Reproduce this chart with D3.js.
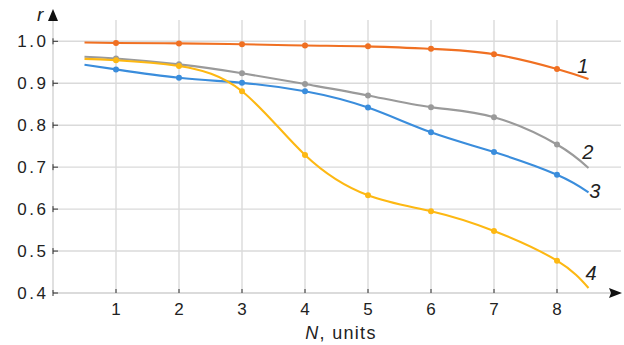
<!DOCTYPE html>
<html lang="en">
<head>
  <meta charset="UTF-8">
  <title>r vs N</title>
  <script src="https://d3js.org/d3.v7.min.js"></script>
  <style>
    body { margin: 0; background: #fff; }
    svg { display: block; font-family: "Liberation Sans", Arial, sans-serif; }
    .grid line { stroke: #dadada; stroke-width: 1.4px; }
    .tick-label { font-size: 17px; fill: #222; letter-spacing: 2.5px; }
    .series { fill: none; stroke-width: 2.1px; }
    .curve-label { font-size: 20px; font-style: italic; fill: #222; }
  </style>
</head>
<body>
  <svg width="624" height="345"></svg>
  <script>
    // N positions (curves start at 0.5 and end at 8.5; markers at whole numbers)
    const nValues = [0.5, 1, 2, 3, 4, 5, 6, 7, 8, 8.5];
    const series1 = [0.997, 0.996, 0.995, 0.993, 0.990, 0.988, 0.982, 0.969, 0.934, 0.910];
    const series2 = [0.963, 0.959, 0.945, 0.924, 0.898, 0.871, 0.843, 0.819, 0.754, 0.698];
    const series3 = [0.944, 0.933, 0.913, 0.901, 0.881, 0.842, 0.783, 0.736, 0.682, 0.640];
    const series4 = [0.958, 0.955, 0.941, 0.881, 0.729, 0.633, 0.595, 0.548, 0.477, 0.412];
    const seriesNames = ['1', '2', '3', '4'];
    const seriesColors = ['#f07022', '#9a9a9a', '#3a8ddc', '#fdb813'];
    const xTicks = [1, 2, 3, 4, 5, 6, 7, 8];
    const yTicks = [0.4, 0.5, 0.6, 0.7, 0.8, 0.9, 1.0];

    const allSeries = [series1, series2, series3, series4];

    const svg = d3.select('svg');
    const plotLeft = 53, plotRight = 621, plotTop = 20, plotBottom = 293;

    const x = d3.scaleLinear().domain([0, 9]).range([plotLeft, plotLeft + 63 * 9]);
    const y = d3.scaleLinear().domain([0.4, 1.0]).range([plotBottom, 41.3]);

    // grid
    const grid = svg.append('g').attr('class', 'grid');
    grid.selectAll('.v').data(xTicks).enter().append('line')
      .attr('x1', d => x(d)).attr('x2', d => x(d))
      .attr('y1', plotTop).attr('y2', plotBottom);
    grid.selectAll('.h').data(yTicks.slice(1)).enter().append('line')
      .attr('x1', plotLeft).attr('x2', plotRight)
      .attr('y1', d => y(d)).attr('y2', d => y(d));

    // axis lines (light) with arrows
    svg.append('line').attr('x1', plotLeft).attr('x2', plotLeft).attr('y1', 18).attr('y2', plotBottom)
      .attr('stroke', '#cfcfcf').attr('stroke-width', 1.3);
    svg.append('line').attr('x1', plotLeft).attr('x2', 612).attr('y1', plotBottom).attr('y2', plotBottom)
      .attr('stroke', '#cfcfcf').attr('stroke-width', 1.3);
    svg.append('path').attr('d', `M${plotLeft},9 L${plotLeft - 5},21 L${plotLeft + 5},21 Z`).attr('fill', '#111');
    svg.append('path').attr('d', `M622,${plotBottom} L609,${plotBottom - 5} L611,${plotBottom} L609,${plotBottom + 5} Z`).attr('fill', '#111');

    // y ticks
    const yAxis = svg.append('g');
    yTicks.forEach(v => {
      yAxis.append('line').attr('x1', plotLeft).attr('x2', plotLeft + 5)
        .attr('y1', y(v)).attr('y2', y(v)).attr('stroke', '#333').attr('stroke-width', 1);
      yAxis.append('line').attr('x1', plotLeft).attr('x2', plotLeft)
        .attr('y1', y(v) - 3).attr('y2', y(v) + 3).attr('stroke', '#333').attr('stroke-width', 1);
      yAxis.append('text').attr('class', 'tick-label')
        .attr('x', 48.5).attr('y', y(v) + 6).attr('text-anchor', 'end')
        .text(d3.format('.1f')(v));
    });

    // x ticks
    const xAxis = svg.append('g');
    xTicks.forEach(v => {
      xAxis.append('line').attr('x1', x(v)).attr('x2', x(v))
        .attr('y1', plotBottom - 4).attr('y2', plotBottom).attr('stroke', '#333').attr('stroke-width', 1);
      xAxis.append('text').attr('class', 'tick-label')
        .attr('x', x(v)).attr('y', 315).attr('text-anchor', 'middle')
        .style('letter-spacing', '0px').attr('font-size', 18).text(v);
    });

    // axis titles
    svg.append('text').attr('x', 37).attr('y', 21).attr('font-size', 19)
      .attr('font-style', 'italic').attr('fill', '#222').text('r');
    const xt = svg.append('text').attr('x', 341).attr('y', 339).attr('font-size', 18)
      .attr('text-anchor', 'middle').attr('fill', '#222').style('letter-spacing', '1.3px');
    xt.append('tspan').attr('font-style', 'italic').text('N');
    xt.append('tspan').text(', units');

    // curves
    const line = d3.line()
      .x(d => x(d[0]))
      .y(d => y(d[1]))
      .curve(d3.curveNatural);

    allSeries.forEach((vals, i) => {
      const pts = nValues.map((n, j) => [n, vals[j]]);
      svg.append('path').attr('class', 'series')
        .attr('stroke', seriesColors[i]).attr('d', line(pts));
      svg.selectAll(null).data(pts.filter(p => Number.isInteger(p[0]))).enter()
        .append('circle')
        .attr('cx', d => x(d[0])).attr('cy', d => y(d[1])).attr('r', 3)
        .attr('fill', seriesColors[i]);
    });

    // curve labels
    const labelPos = [[8.41, 0.925], [8.49, 0.719], [8.6, 0.626], [8.54, 0.432]];
    seriesNames.forEach((s, i) => {
      svg.append('text').attr('class', 'curve-label')
        .attr('x', x(labelPos[i][0])).attr('y', y(labelPos[i][1]))
        .attr('text-anchor', 'middle').text(s);
    });
  </script>
</body>
</html>
